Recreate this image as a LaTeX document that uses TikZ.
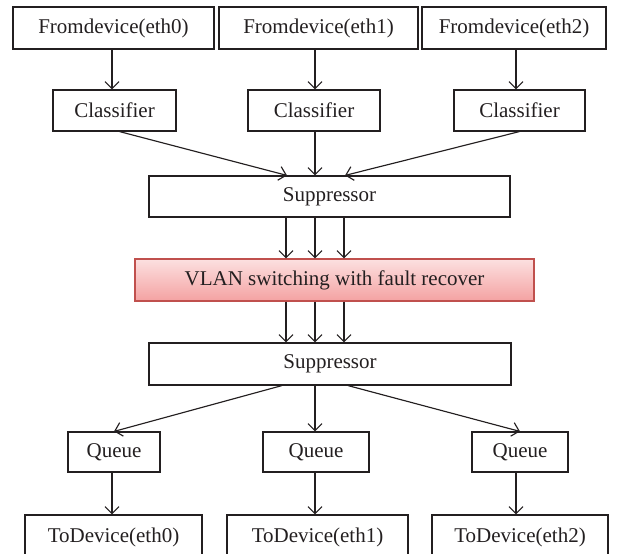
\documentclass[tikz,border=0pt]{standalone}
\usepackage{fontspec}
\setmainfont{Liberation Serif}
\usetikzlibrary{arrows.meta}
\definecolor{ink}{HTML}{231F20}
\definecolor{vlanedge}{HTML}{C0504D}
\definecolor{vlantop}{HTML}{FCE0E0}
\definecolor{vlanbot}{HTML}{F4A2A2}
\begin{document}
\begin{tikzpicture}[x=1pt,y=-1pt,
  box/.style={draw=ink, line width=1.15pt, inner sep=0pt, text=ink,
    minimum height=#1, font=\fontsize{21}{25}\selectfont},
  box/.default=42pt,
  arr/.style={draw=ink, line width=1.15pt, -{Straight Barb[length=7pt,width=14pt,line width=1.15pt]}}]
\useasboundingbox (0,0) rectangle (622,554);

% input devices
\node[box, minimum width=201pt] (fd0) at (113.5,28) {Fromdevice(eth0)};
\node[box, minimum width=199pt] (fd1) at (318.5,28) {Fromdevice(eth1)};
\node[box, minimum width=184pt] (fd2) at (514,28)   {Fromdevice(eth2)};

% classifiers
\node[box=41pt, minimum width=123pt] (cl0) at (114.5,110.5) {Classifier};
\node[box=41pt, minimum width=132pt] (cl1) at (314,110.5)   {Classifier};
\node[box=41pt, minimum width=131pt] (cl2) at (519.5,110.5) {Classifier};

% suppressors and switching core
\node[box=41pt, minimum width=361pt] (sup1) at (329.5,196.5) {Suppressor};
\node[box, minimum width=399pt, draw=vlanedge, top color=vlantop, bottom color=vlanbot]
  (vlan) at (334.5,280) {VLAN switching with fault recover};
\node[box, minimum width=362pt] (sup2) at (330,364) {Suppressor};

% queues
\node[box=40pt, minimum width=92pt]  (q0) at (114,452) {Queue};
\node[box=40pt, minimum width=106pt] (q1) at (316,452) {Queue};
\node[box=40pt, minimum width=96pt]  (q2) at (520,452) {Queue};

% output devices
\node[box=44pt, minimum width=177pt] (td0) at (113.5,537) {ToDevice(eth0)};
\node[box=44pt, minimum width=181pt] (td1) at (317.5,537) {ToDevice(eth1)};
\node[box=44pt, minimum width=176pt] (td2) at (520,537)   {ToDevice(eth2)};

% device -> classifier
\draw[arr] (fd0.south -| 112,0) -- (cl0.north -| 112,0);
\draw[arr] (fd1.south -| 315,0) -- (cl1.north -| 315,0);
\draw[arr] (fd2.south -| 516,0) -- (cl2.north -| 516,0);

% classifier -> suppressor
\draw[arr] ([xshift=5pt]cl0.south) -- (sup1.north -| 287,0);
\draw[arr] (cl1.south -| 315,0) -- (sup1.north -| 315,0);
\draw[arr] (cl2.south) -- (sup1.north -| 345,0);

% suppressor -> VLAN switching -> suppressor
\foreach \xx in {286,315,344} {
  \draw[arr] (sup1.south -| \xx,0) -- (vlan.north -| \xx,0);
  \draw[arr] (vlan.south -| \xx,0) -- (sup2.north -| \xx,0);
}

% suppressor -> queues
\draw[arr] (sup2.south -| 282,0) -- (q0.north);
\draw[arr] (sup2.south -| 315,0) -- (q1.north -| 315,0);
\draw[arr] (sup2.south -| 348,0) -- (q2.north);

% queue -> device
\draw[arr] (q0.south -| 112,0) -- (td0.north -| 112,0);
\draw[arr] (q1.south -| 315,0) -- (td1.north -| 315,0);
\draw[arr] (q2.south -| 516,0) -- (td2.north -| 516,0);
\end{tikzpicture}
\end{document}
